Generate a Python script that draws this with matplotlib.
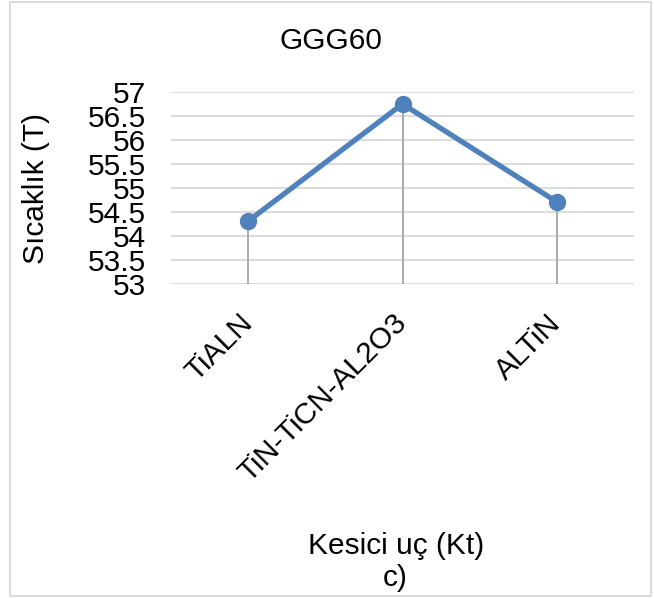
import matplotlib
matplotlib.use("Agg")
from matplotlib import pyplot as plt
from matplotlib.patches import Rectangle

# data
categories = ["TiALN", "TiN-TiCN-AL2O3", "ALTiN"]
temps = [54.31, 56.75, 54.71]
yticks = [53, 53.5, 54, 54.5, 55, 55.5, 56, 56.5, 57]
ytick_labels = ["53", "53.5", "54", "54.5", "55", "55.5", "56", "56.5", "57"]

plt.rcParams['font.family'] = ['Liberation Sans', 'DejaVu Sans']
FS = 21.5

W, H = 654, 598
fig = plt.figure(figsize=(W / 100, H / 100), dpi=100)
ax = fig.add_axes([171 / W, 1 - 284 / H, (634 - 171) / W, (284 - 92) / H])

x = list(range(len(categories)))

# grid lines
for yt in yticks:
    ax.axhline(yt, color="#D9D9D9", linewidth=1.3, zorder=0)

# drop lines from each point down to the axis
ax.vlines(x, yticks[0], temps, colors="#A6A6A6", linewidth=1.3, zorder=1)

ax.plot(x, temps, color="#4F81BD", linewidth=3.8, marker="o", markersize=11.5,
        zorder=3, solid_capstyle="round")

ax.set_xlim(-0.5, len(categories) - 0.5)
ax.set_ylim(yticks[0], yticks[-1])
ax.set_yticks(yticks)
ax.set_yticklabels(ytick_labels, fontsize=FS)
ax.set_xticks(x)
ax.set_xticklabels(categories, fontsize=FS, rotation=45, ha="right",
                   va="center", rotation_mode="anchor")
ax.tick_params(axis="y", length=0, pad=18)
ax.tick_params(axis="x", length=0, pad=25)
for s in ax.spines.values():
    s.set_visible(False)

fig.text(331 / W, 1 - 41 / H, "GGG60", fontsize=FS, ha="center", va="center")
fig.text(36 / W, 1 - 188 / H, "Sıcaklık (T)", fontsize=FS, rotation=90,
         ha="center", va="center")
fig.text(396 / W, 1 - 546 / H, "Kesici uç (Kt)", fontsize=FS, ha="center", va="center")
fig.text(395 / W, 1 - 578 / H, "c)", fontsize=FS, ha="center", va="center")

# chart border
fig.patches.append(Rectangle((9.5 / W, 1 - 596 / H), (651 - 9.5) / W, (596 - 2) / H,
                             transform=fig.transFigure, fill=False,
                             edgecolor="#D9D9D9", linewidth=1.3))

fig.savefig("out.png", dpi=100)
